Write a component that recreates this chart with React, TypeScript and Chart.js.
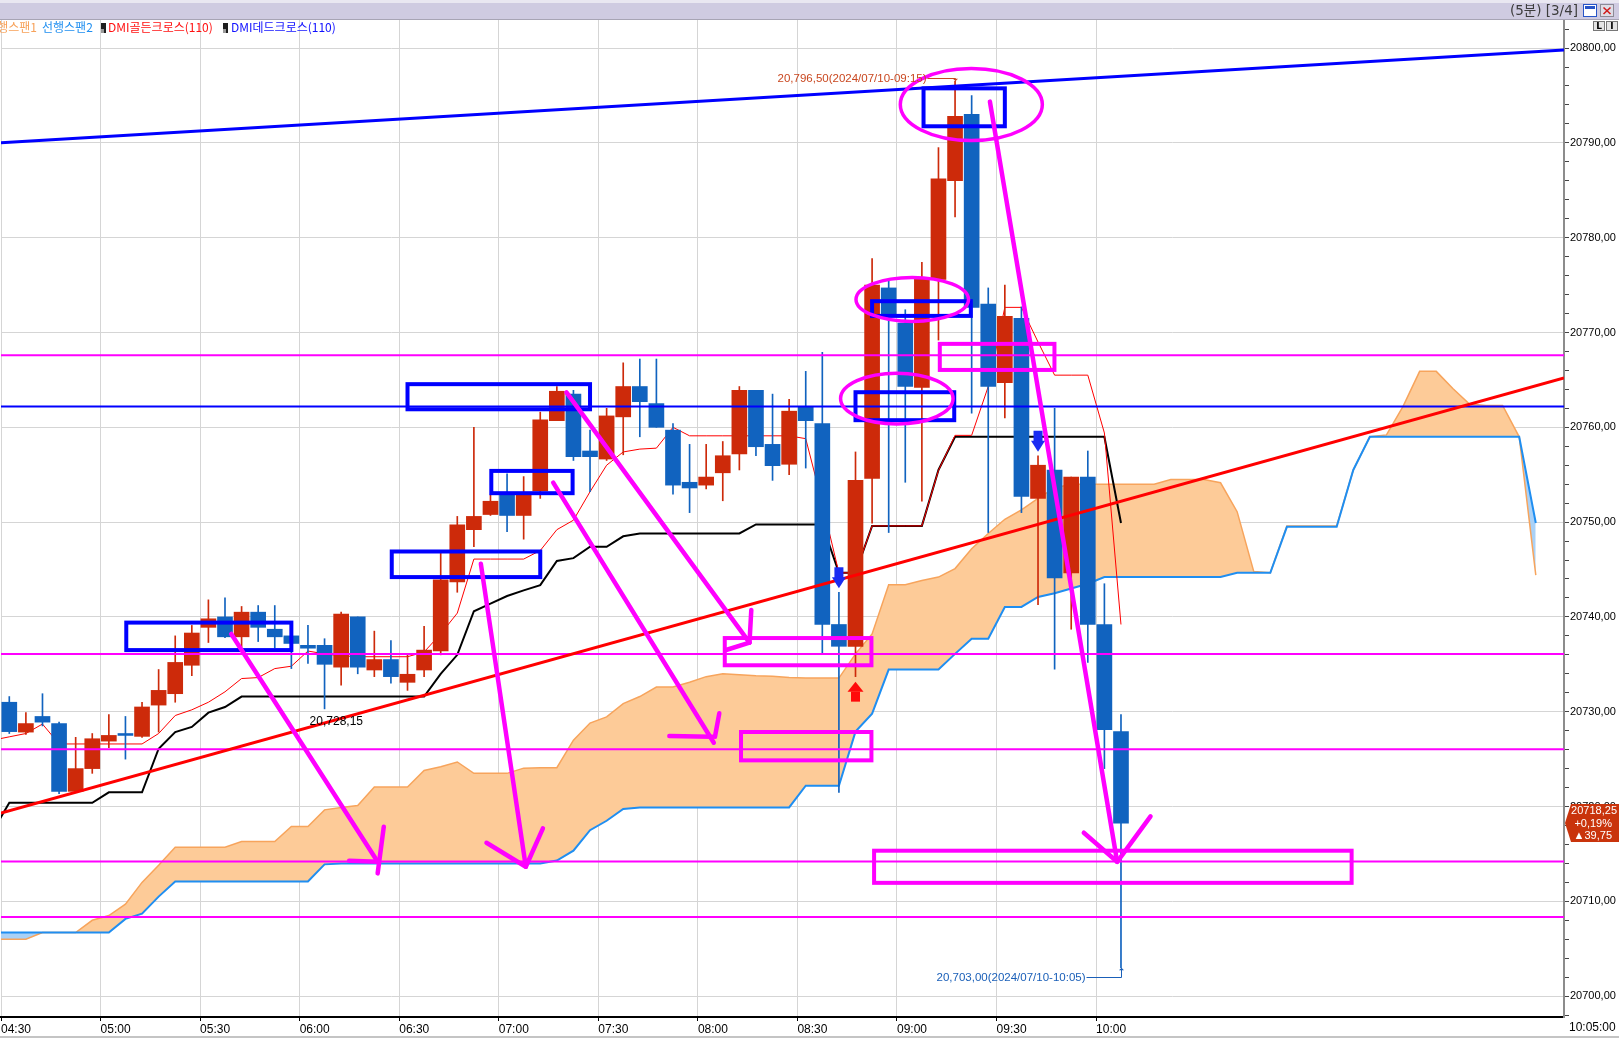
import React, { useEffect, useRef } from 'react';
import { Chart, registerables } from 'chart.js';

Chart.register(...registerables);

const W = 1619;
const H = 1038;

// ---- axis labels ----
const timeLabels = ['04:30', '05:00', '05:30', '06:00', '06:30', '07:00', '07:30', '08:00', '08:30', '09:00', '09:30', '10:00'];
const lastTimeLabel = '10:05:00';
const yMin = 20697.8;
const yMax = 20802.96;
const xMin = -0.5;
const xMax = 93.7;

// ---- 5-minute candles from 04:30 to 10:05 ----
const opens = [
  20731.0, 20727.85, 20729.5, 20728.75, 20721.6, 20724.0, 20726.9, 20727.7, 20727.4, 20730.7,
  20731.9, 20734.9, 20738.9, 20740.0, 20737.9, 20740.5, 20738.7, 20738.0, 20737.0, 20737.0,
  20734.7, 20740.0, 20734.4, 20735.5, 20733.1, 20734.4, 20736.4, 20743.7, 20749.2, 20750.8,
  20752.85, 20750.7, 20753.3, 20760.7, 20763.5, 20757.5, 20756.65, 20761.1, 20764.3, 20762.5,
  20759.7, 20754.2, 20753.9, 20755.2, 20757.2, 20763.9, 20758.2, 20756.1, 20762.2, 20760.4,
  20739.2, 20736.9, 20754.6, 20774.7, 20771.0, 20764.2, 20775.6, 20786.0, 20793.0, 20773.0,
  20764.7, 20771.5, 20752.5, 20755.5, 20744.65, 20754.75, 20739.2, 20727.9,
];
const highs = [
  20731.6, 20729.9, 20731.9, 20728.9, 20727.3, 20727.7, 20729.7, 20729.5, 20731.0, 20734.45,
  20738.0, 20739.1, 20741.8, 20742.0, 20741.1, 20741.2, 20741.2, 20738.6, 20739.1, 20737.7,
  20740.5, 20740.0, 20738.5, 20737.5, 20736.0, 20739.0, 20746.7, 20750.6, 20760.0, 20752.85,
  20755.1, 20754.8, 20761.6, 20764.3, 20763.9, 20759.7, 20762.0, 20766.8, 20767.2, 20767.2,
  20760.4, 20758.2, 20758.2, 20758.5, 20764.3, 20763.9, 20763.5, 20762.95, 20765.9, 20767.9,
  20742.6, 20757.4, 20777.8, 20775.4, 20772.4, 20777.4, 20789.5, 20796.5, 20795.0, 20774.7,
  20775.0, 20772.7, 20757.0, 20762.0, 20754.75, 20757.5, 20743.5, 20729.7,
];
const lows = [
  20727.7, 20727.6, 20728.5, 20721.35, 20721.5, 20723.5, 20726.2, 20725.0, 20727.3, 20727.85,
  20731.0, 20733.8, 20737.3, 20737.8, 20736.8, 20737.4, 20736.7, 20734.55, 20735.1, 20730.3,
  20732.8, 20734.0, 20733.7, 20733.0, 20732.25, 20733.7, 20736.0, 20742.6, 20747.4, 20750.7,
  20749.0, 20748.2, 20752.5, 20760.7, 20756.5, 20753.2, 20756.5, 20757.1, 20759.0, 20760.0,
  20752.95, 20751.0, 20753.5, 20752.25, 20755.5, 20757.0, 20754.4, 20755.0, 20755.7, 20736.1,
  20721.5, 20733.7, 20749.9, 20748.9, 20754.2, 20752.2, 20769.2, 20782.2, 20761.5, 20748.9,
  20761.0, 20751.0, 20741.3, 20734.5, 20738.7, 20735.2, 20724.0, 20703.0,
];
const closes = [
  20727.9, 20728.75, 20728.9, 20721.6, 20724.0, 20727.15, 20727.5, 20727.5, 20730.5, 20732.25,
  20735.2, 20738.3, 20739.8, 20737.9, 20740.5, 20738.9, 20737.9, 20737.2, 20736.7, 20735.0,
  20740.3, 20734.7, 20735.5, 20733.7, 20733.95, 20736.5, 20743.9, 20749.7, 20750.6, 20752.2,
  20750.7, 20752.85, 20760.8, 20763.8, 20756.9, 20756.9, 20761.2, 20764.3, 20762.7, 20760.0,
  20753.9, 20753.6, 20754.75, 20757.0, 20763.9, 20757.95, 20755.95, 20761.7, 20760.7, 20739.2,
  20736.9, 20754.4, 20775.0, 20771.9, 20764.3, 20775.6, 20786.2, 20792.8, 20772.65, 20764.3,
  20771.7, 20752.7, 20756.0, 20744.1, 20754.75, 20739.2, 20728.1, 20718.25,
];

// ---- indicator lines (first value sits one bar before 04:30) ----
const tenkan = [
  20727.0,
  20727.35, 20727.7, 20728.7, 20726.6, 20726.6, 20726.6, 20726.6, 20726.6, 20726.6, 20727.7,
  20729.6, 20730.2, 20731.0, 20732.1, 20733.5, 20733.6, 20734.55, 20734.8, 20736.4, 20736.1,
  20735.9, 20735.8, 20735.8, 20735.8, 20735.8, 20736.3, 20738.2, 20740.4, 20746.1, 20746.1,
  20746.1, 20746.1, 20747.0, 20749.2, 20750.2, 20753.2, 20756.0, 20757.4, 20757.7, 20757.8,
  20760.0, 20759.1, 20759.1, 20759.1, 20759.1, 20759.1, 20759.1, 20759.1, 20758.8, 20752.0,
  20744.65, 20744.65, 20749.6, 20749.6, 20749.6, 20749.6, 20755.45, 20759.15, 20759.15, 20764.3,
  20772.65, 20772.65, 20769.0, 20765.5, 20765.5, 20765.5, 20759.4, 20739.2,
];
const kijun = [
  20717.4,
  20720.4, 20720.4, 20720.4, 20720.4, 20720.4, 20720.4, 20721.5, 20721.5, 20721.5, 20726.1,
  20727.85, 20728.4, 20729.9, 20730.5, 20731.6, 20731.6, 20731.6, 20731.6, 20731.6, 20731.6,
  20731.6, 20731.6, 20731.6, 20731.6, 20731.6, 20731.6, 20734.0, 20736.0, 20740.6, 20741.4,
  20742.2, 20742.8, 20743.35, 20745.9, 20746.2, 20747.4, 20747.4, 20748.5, 20748.8, 20748.8,
  20748.8, 20748.8, 20748.8, 20748.8, 20748.8, 20749.75, 20749.75, 20749.75, 20749.75, 20749.75,
  20744.65, 20744.65, 20749.6, 20749.6, 20749.6, 20749.6, 20755.5, 20759.0, 20759.0, 20759.0,
  20759.0, 20759.0, 20759.0, 20759.0, 20759.0, 20759.0, 20759.0, 20749.9,
];
const leadSpan1 = [
  20706.0,
  20706.0, 20706.0, 20706.7, 20706.7, 20706.7, 20708.0, 20708.5, 20709.7, 20712.0, 20713.8,
  20715.7, 20715.7, 20715.7, 20715.7, 20716.3, 20716.3, 20716.3, 20717.9, 20717.9, 20719.65,
  20719.9, 20720.1, 20722.05, 20722.05, 20722.05, 20723.8, 20724.2, 20724.7, 20723.5, 20723.5,
  20723.5, 20724.05, 20724.1, 20724.1, 20727.0, 20728.8, 20729.45, 20730.85, 20731.6, 20732.6,
  20732.6, 20733.1, 20733.7, 20734.0, 20733.9, 20733.8, 20733.75, 20733.6, 20733.55, 20733.55,
  20733.55, 20736.1, 20738.2, 20743.4, 20743.4, 20743.85, 20744.2, 20745.1, 20747.2, 20748.8,
  20750.3, 20751.3, 20752.5, 20753.6, 20754.0, 20754.0, 20754.0, 20754.0, 20754.0, 20754.0,
  20754.5, 20754.5, 20754.5, 20754.15, 20751.1, 20744.8, 20744.65, 20749.6, 20749.6, 20749.6,
  20749.6, 20755.5, 20759.0, 20759.2, 20762.2, 20765.9, 20765.9, 20764.1, 20762.45, 20762.3,
  20762.3, 20759.0, 20744.4,
];
const leadSpan2 = [
  20706.7,
  20706.7, 20706.7, 20706.7, 20706.7, 20706.7, 20706.7, 20706.7, 20708.15, 20708.7, 20710.5,
  20712.1, 20712.1, 20712.1, 20712.1, 20712.1, 20712.1, 20712.1, 20712.1, 20712.1, 20713.9,
  20714.0, 20714.0, 20714.0, 20714.0, 20714.0, 20714.0, 20714.0, 20714.0, 20714.0, 20714.0,
  20714.0, 20714.0, 20714.0, 20714.3, 20715.35, 20717.5, 20718.5, 20719.75, 20719.9, 20719.9,
  20719.9, 20719.9, 20719.9, 20719.9, 20719.9, 20719.9, 20719.9, 20719.9, 20722.2, 20722.2,
  20722.2, 20727.9, 20729.8, 20734.45, 20734.45, 20734.45, 20734.45, 20736.1, 20737.7, 20737.7,
  20741.05, 20741.05, 20742.1, 20742.5, 20743.0, 20743.5, 20744.2, 20744.2, 20744.2, 20744.2,
  20744.2, 20744.2, 20744.2, 20744.2, 20744.65, 20744.65, 20744.65, 20749.5, 20749.5, 20749.5,
  20749.5, 20755.5, 20759.0, 20759.0, 20759.0, 20759.0, 20759.0, 20759.0, 20759.0, 20759.0,
  20759.0, 20759.0, 20749.9,
];

// ---- drawn annotations (bar index, price) ----
const magentaLevels = [20767.6, 20736.1, 20726.05, 20714.2, 20708.35];
const blueLevels = [20762.2];
const redTrend = [[-0.5, 20719.3], [93.7, 20765.2]];
const blueTrend = [[-0.5, 20790.0], [93.7, 20799.8]];
const blueBoxes = [
  [7.05, 20739.4, 17.0, 20736.5],
  [24.0, 20764.55, 35.0, 20761.9],
  [29.05, 20755.4, 33.95, 20753.05],
  [23.05, 20746.9, 32.0, 20744.2],
  [55.1, 20795.75, 60.0, 20791.75],
  [52.0, 20773.3, 57.95, 20771.75],
  [51.0, 20763.7, 56.95, 20760.75],
];
const magentaBoxes = [
  [43.12, 20737.77, 51.96, 20734.9],
  [44.1, 20727.86, 51.96, 20724.87],
  [56.08, 20768.8, 62.99, 20766.05],
  [52.12, 20715.34, 80.9, 20711.95],
];
const magentaRings = [
  [57.98, 20794.04, 4.28, 3.8],
  [54.42, 20773.49, 3.39, 2.32],
  [53.49, 20763.03, 3.39, 2.68],
];
const magentaArrows = [
  [[[13.38, 20738.2], [22.2, 20714.18]], [[22.57, 20717.87], [22.2, 20712.95]], [[20.48, 20714.28], [22.2, 20714.18]]],
  [[[28.42, 20745.61], [31.13, 20713.65]], [[28.76, 20716.18], [31.13, 20713.65], [32.16, 20717.7]]],
  [[[32.78, 20754.16], [42.46, 20726.73]], [[39.78, 20727.44], [42.36, 20727.36]], [[42.79, 20729.83], [42.53, 20727.36]]],
  [[[33.58, 20763.68], [44.61, 20737.28]], [[44.72, 20740.73], [44.61, 20737.28]], [[43.2, 20736.51], [44.61, 20737.28]]],
  [[[59.1, 20794.35], [66.77, 20714.17]], [[64.76, 20717.24], [66.77, 20714.17], [68.78, 20718.96]]],
];
const deadCrossBars = [50, 62];
const goldenCrossBars = [51];
const highMarkBar = 57;
const highMarkText = '20,796,50(2024/07/10-09:15)';
const lowMarkBar = 67;
const lowMarkText = '20,703,00(2024/07/10-10:05)';
const noteText = '20,728,15';
const notePos = [18.1, 20729.0];
const lastPriceLines = ['20718,25', '+0,19%', '▲39,75'];
const lastPrice = 20718.25;
const headerText = '(5분) [3/4]';
const legendItems = [
  { text: '선행스팬1', color: '#f7a25a' },
  { text: '선행스팬2', color: '#1e8ef0' },
  { text: 'DMI골든크로스(110)', color: '#ff1010' },
  { text: 'DMI데드크로스(110)', color: '#1010ff' },
];

const RED = '#cd2a0a';
const BLUE = '#1163bf';
const MAGENTA = '#ff00ff';
const KFONT = '"Noto Sans CJK KR", "DejaVu Sans", sans-serif';

const isMajor = (v: number) => Math.abs(v / 10 - Math.round(v / 10)) < 1e-6;

export default function App() {
  const canvasRef = useRef<HTMLCanvasElement | null>(null);

  useEffect(() => {
    const canvas = canvasRef.current;
    if (!canvas) return;
    document.body.style.margin = '0';

    const colors = opens.map((o, i) => (closes[i] >= o ? RED : BLUE));
    const series = (arr: number[], start: number) => arr.map((v, k) => ({ x: k + start, y: v }));

    const overlay = {
      id: 'overlay',
      beforeDraw(chart: any) {
        const ctx = chart.ctx;
        ctx.save();
        ctx.fillStyle = '#ffffff';
        ctx.fillRect(0, 0, W, H);
        ctx.restore();
      },
      afterDatasetsDraw(chart: any) {
        const { ctx, chartArea } = chart;
        const xs = chart.scales.x;
        const ys = chart.scales.y;
        const px = (i: number) => xs.getPixelForValue(i);
        const py = (v: number) => ys.getPixelForValue(v);
        ctx.save();
        ctx.beginPath();
        ctx.rect(chartArea.left, chartArea.top, chartArea.right - chartArea.left, chartArea.bottom - chartArea.top);
        ctx.clip();

        // horizontal levels
        ctx.lineWidth = 2;
        ctx.strokeStyle = MAGENTA;
        magentaLevels.forEach((v) => {
          ctx.beginPath();
          ctx.moveTo(chartArea.left, py(v));
          ctx.lineTo(chartArea.right, py(v));
          ctx.stroke();
        });
        ctx.strokeStyle = '#0000ff';
        blueLevels.forEach((v) => {
          ctx.beginPath();
          ctx.moveTo(chartArea.left, py(v));
          ctx.lineTo(chartArea.right, py(v));
          ctx.stroke();
        });

        // trend lines
        ctx.lineWidth = 3;
        ctx.strokeStyle = '#ff0000';
        ctx.beginPath();
        ctx.moveTo(px(redTrend[0][0]), py(redTrend[0][1]));
        ctx.lineTo(px(redTrend[1][0]), py(redTrend[1][1]));
        ctx.stroke();
        ctx.strokeStyle = '#0000ff';
        ctx.beginPath();
        ctx.moveTo(px(blueTrend[0][0]), py(blueTrend[0][1]));
        ctx.lineTo(px(blueTrend[1][0]), py(blueTrend[1][1]));
        ctx.stroke();

        // boxes
        ctx.lineWidth = 4;
        ctx.lineJoin = 'miter';
        ctx.strokeStyle = '#0000ff';
        blueBoxes.forEach(([a, v1, b, v2]) => {
          ctx.strokeRect(px(a), py(v1), px(b) - px(a), py(v2) - py(v1));
        });
        ctx.strokeStyle = MAGENTA;
        magentaBoxes.forEach(([a, v1, b, v2]) => {
          ctx.strokeRect(px(a), py(v1), px(b) - px(a), py(v2) - py(v1));
        });

        // rings
        ctx.lineWidth = 3.5;
        magentaRings.forEach(([ci, cv, ri, rv]) => {
          const cx = px(ci);
          const cy = py(cv);
          const rx = px(ci + ri) - cx;
          const ry = py(cv - rv) - cy;
          ctx.beginPath();
          ctx.ellipse(cx, cy, rx, ry, 0, 0, Math.PI * 2);
          ctx.stroke();
        });

        // arrows
        ctx.lineWidth = 4.5;
        ctx.lineCap = 'round';
        ctx.lineJoin = 'round';
        magentaArrows.forEach((arrow) => {
          arrow.forEach((poly) => {
            ctx.beginPath();
            poly.forEach(([i, v], k) => {
              if (k === 0) ctx.moveTo(px(i), py(v));
              else ctx.lineTo(px(i), py(v));
            });
            ctx.stroke();
          });
        });
        ctx.lineCap = 'butt';

        // DMI cross markers
        ctx.fillStyle = '#1a2cf2';
        deadCrossBars.forEach((i) => {
          const cx = px(i);
          const tip = py(highs[i]) - 4;
          ctx.fillRect(cx - 4.5, tip - 21, 9, 11);
          ctx.beginPath();
          ctx.moveTo(cx - 7, tip - 11);
          ctx.lineTo(cx + 7, tip - 11);
          ctx.lineTo(cx, tip);
          ctx.closePath();
          ctx.fill();
        });
        ctx.fillStyle = '#ff0a0a';
        goldenCrossBars.forEach((i) => {
          const cx = px(i);
          const tip = py(lows[i]) + 5;
          ctx.beginPath();
          ctx.moveTo(cx - 8, tip + 10);
          ctx.lineTo(cx + 8, tip + 10);
          ctx.lineTo(cx, tip);
          ctx.closePath();
          ctx.fill();
          ctx.fillRect(cx - 4.5, tip + 10, 9, 10);
        });

        // high / low marks
        ctx.font = '11.5px "Liberation Sans", Arial, sans-serif';
        ctx.textBaseline = 'middle';
        ctx.lineWidth = 1;
        {
          const cx = Math.round(px(highMarkBar)) + 0.5;
          const yh = py(highs[highMarkBar]);
          const ly = Math.round(yh - 3.5) + 0.5;
          ctx.fillStyle = '#c9471f';
          ctx.strokeStyle = '#c9471f';
          ctx.textAlign = 'right';
          ctx.fillText(highMarkText, cx - 29, ly);
          ctx.beginPath();
          ctx.moveTo(cx - 28, ly);
          ctx.lineTo(cx, ly);
          ctx.lineTo(cx, yh - 1);
          ctx.stroke();
          ctx.beginPath();
          ctx.moveTo(cx - 2.5, yh - 2.5);
          ctx.lineTo(cx + 2.5, yh - 2.5);
          ctx.lineTo(cx, yh);
          ctx.closePath();
          ctx.fill();
        }
        {
          const cx = Math.round(px(lowMarkBar)) + 0.5;
          const yl = py(lows[lowMarkBar]);
          const ly = Math.round(yl + 9) + 0.5;
          ctx.fillStyle = '#1a5fb8';
          ctx.strokeStyle = '#1a5fb8';
          ctx.textAlign = 'right';
          ctx.fillText(lowMarkText, cx - 36, ly);
          ctx.beginPath();
          ctx.moveTo(cx - 35, ly);
          ctx.lineTo(cx, ly);
          ctx.lineTo(cx, yl + 1);
          ctx.stroke();
          ctx.beginPath();
          ctx.moveTo(cx - 2.5, yl + 2.5);
          ctx.lineTo(cx + 2.5, yl + 2.5);
          ctx.lineTo(cx, yl);
          ctx.closePath();
          ctx.fill();
        }
        ctx.fillStyle = '#000';
        ctx.textAlign = 'left';
        ctx.font = '12px "Liberation Sans", Arial, sans-serif';
        ctx.fillText(noteText, px(notePos[0]), py(notePos[1]));
        ctx.restore();
      },
      afterDraw(chart: any) {
        const { ctx } = chart;
        const ys = chart.scales.y;
        ctx.save();
        // title bar
        ctx.fillStyle = '#e9e7f1';
        ctx.fillRect(0, 0, W, 3);
        ctx.fillStyle = '#cfcbe1';
        ctx.fillRect(0, 3, W, 16);
        ctx.fillStyle = '#a7a4b4';
        ctx.fillRect(0, 19, W, 1);
        ctx.fillStyle = '#3c3c3c';
        ctx.font = '13.5px "DejaVu Sans", "Noto Sans CJK KR", sans-serif';
        ctx.textAlign = 'right';
        ctx.textBaseline = 'middle';
        ctx.fillText(headerText, 1578, 11.5);
        // window buttons
        ctx.fillStyle = '#ffffff';
        ctx.fillRect(1583, 4, 14, 13);
        ctx.strokeStyle = '#2855c8';
        ctx.lineWidth = 1;
        ctx.strokeRect(1583.5, 4.5, 13, 12);
        ctx.fillStyle = '#2855c8';
        ctx.fillRect(1585, 6, 10, 3);
        ctx.fillStyle = '#dedce6';
        ctx.fillRect(1600, 4, 14, 13);
        ctx.strokeStyle = '#8c8a96';
        ctx.strokeRect(1600.5, 4.5, 13, 12);
        ctx.strokeStyle = '#d01818';
        ctx.lineWidth = 1.5;
        ctx.beginPath();
        ctx.moveTo(1603.5, 7.5);
        ctx.lineTo(1610.5, 14);
        ctx.moveTo(1610.5, 7.5);
        ctx.lineTo(1603.5, 14);
        ctx.stroke();
        // small L / I buttons
        ctx.lineWidth = 1;
        [[1593, 'L'], [1606, 'I']].forEach(([bx, t]) => {
          const x0 = bx as number;
          ctx.fillStyle = '#e4e4e4';
          ctx.fillRect(x0, 21, 12, 10);
          ctx.strokeStyle = '#777';
          ctx.strokeRect(x0 + 0.5, 21.5, 11, 9);
          ctx.fillStyle = '#000';
          ctx.font = 'bold 9px "DejaVu Sans", sans-serif';
          ctx.textAlign = 'center';
          ctx.fillText(t as string, x0 + 6, 26.5);
        });

        // legend row
        ctx.font = '12px ' + KFONT;
        ctx.textBaseline = 'middle';
        ctx.textAlign = 'right';
        ctx.fillStyle = legendItems[0].color;
        ctx.fillText(legendItems[0].text, 37, 27);
        ctx.textAlign = 'left';
        ctx.fillStyle = legendItems[1].color;
        ctx.fillText(legendItems[1].text, 42, 27);
        const icon = (x0: number) => {
          ctx.fillStyle = '#1e1e1e';
          ctx.fillRect(x0, 23, 5, 10);
          ctx.fillStyle = '#9a9a9a';
          ctx.fillRect(x0, 29, 3, 4);
        };
        icon(101);
        ctx.fillStyle = legendItems[2].color;
        ctx.fillText(legendItems[2].text, 108, 27);
        icon(223);
        ctx.fillStyle = legendItems[3].color;
        ctx.fillText(legendItems[3].text, 231, 27);

        // last price tag on the price axis
        const ty = ys.getPixelForValue(lastPrice);
        ctx.fillStyle = '#c9340c';
        ctx.beginPath();
        ctx.moveTo(1565, ty);
        ctx.lineTo(1571, ty - 19);
        ctx.lineTo(W, ty - 19);
        ctx.lineTo(W, ty + 19);
        ctx.lineTo(1571, ty + 19);
        ctx.closePath();
        ctx.fill();
        ctx.fillStyle = '#ffffff';
        ctx.font = '11px "Liberation Sans", Arial, sans-serif';
        ctx.textAlign = 'right';
        ctx.fillText(lastPriceLines[0], 1617, ty - 12);
        ctx.fillText(lastPriceLines[1], 1612, ty + 0.5);
        ctx.fillText(lastPriceLines[2], 1612, ty + 13);

        // current time box under the price axis
        ctx.fillStyle = '#ffffff';
        ctx.fillRect(1566, 1019, W - 1566, 17);
        ctx.fillStyle = '#000';
        ctx.font = '12px "Liberation Sans Narrow", "Liberation Sans", sans-serif';
        ctx.textAlign = 'left';
        ctx.fillText(lastTimeLabel, 1569, 1028);
        ctx.fillStyle = '#c4c4c4';
        ctx.fillRect(0, 1036, W, 2);
        ctx.restore();
      },
    };

    const chart = new Chart(canvas, {
      type: 'line',
      data: {
        datasets: [
          {
            type: 'bar',
            label: 'body',
            data: opens.map((o, i) => ({ x: i, y: [o, closes[i]] })) as any,
            backgroundColor: colors,
            borderWidth: 0,
            grouped: false,
            barThickness: 15,
            maxBarThickness: 15,
            minBarLength: 1.5,
            order: 1,
          } as any,
          {
            type: 'bar',
            label: 'wick',
            data: highs.map((h, i) => ({ x: i, y: [lows[i], h] })) as any,
            backgroundColor: colors,
            borderWidth: 0,
            grouped: false,
            barThickness: 1,
            maxBarThickness: 1,
            order: 2,
          } as any,
          {
            label: 'tenkan',
            data: series(tenkan, -1),
            borderColor: '#ff0000',
            borderWidth: 1,
            pointRadius: 0,
            tension: 0,
            order: 3,
          },
          {
            label: 'kijun',
            data: series(kijun, -1),
            borderColor: '#000000',
            borderWidth: 2,
            pointRadius: 0,
            tension: 0,
            order: 4,
          },
          {
            label: 'span2',
            data: series(leadSpan2, -1),
            borderColor: '#1f8ef1',
            borderWidth: 2,
            pointRadius: 0,
            tension: 0,
            order: 5,
          },
          {
            label: 'span1',
            data: series(leadSpan1, -1),
            borderColor: '#f7a45c',
            borderWidth: 1.5,
            pointRadius: 0,
            tension: 0,
            fill: { target: 4, above: '#fdcb98', below: '#a9d1f7' },
            order: 6,
          } as any,
        ],
      },
      options: {
        responsive: false,
        maintainAspectRatio: false,
        devicePixelRatio: 1,
        animation: false,
        events: [],
        layout: { padding: { top: 20, left: 0, right: 0, bottom: 0 } },
        plugins: {
          legend: { display: false },
          tooltip: { enabled: false },
          title: { display: false },
        },
        scales: {
          x: {
            type: 'linear',
            min: xMin,
            max: xMax,
            offset: false,
            afterBuildTicks: (s: any) => {
              s.ticks = timeLabels.map((_, k) => ({ value: -0.5 + 6 * k }));
            },
            afterFit: (s: any) => {
              s.height = 21;
            },
            ticks: {
              autoSkip: false,
              maxRotation: 0,
              minRotation: 0,
              align: 'start',
              padding: 1,
              color: '#000',
              font: { family: '"Liberation Sans Narrow", "Liberation Sans", sans-serif', size: 12 },
              callback: (v: any) => timeLabels[Math.round((Number(v) + 0.5) / 6)] ?? '',
            },
            grid: { offset: false, color: '#d5d5d5', lineWidth: 1, tickLength: 4, tickColor: '#000' },
            border: { color: '#000', width: 2 },
          } as any,
          y: {
            type: 'linear',
            position: 'right',
            min: yMin,
            max: yMax,
            stacked: false,
            afterFit: (s: any) => {
              s.width = 55;
            },
            ticks: {
              stepSize: 2,
              autoSkip: false,
              includeBounds: false,
              padding: 1,
              color: '#000',
              font: { family: '"Liberation Sans", Arial, sans-serif', size: 11 },
              callback: (v: any) => (isMajor(Number(v)) ? `${Math.round(Number(v))},00` : ''),
            },
            grid: {
              color: (c: any) => (c.tick && isMajor(c.tick.value) ? '#d5d5d5' : 'rgba(0,0,0,0)'),
              lineWidth: 1,
              tickLength: 5,
              tickColor: '#444',
            },
            border: { color: '#8c8c8c', width: 2 },
          } as any,
        },
      },
      plugins: [overlay],
    } as any);

    return () => chart.destroy();
  }, []);

  return (
    <div style={{ position: 'absolute', left: 0, top: 0, width: W, height: H }}>
      <canvas ref={canvasRef} width={W} height={H} style={{ display: 'block', width: W, height: H }} />
    </div>
  );
}
